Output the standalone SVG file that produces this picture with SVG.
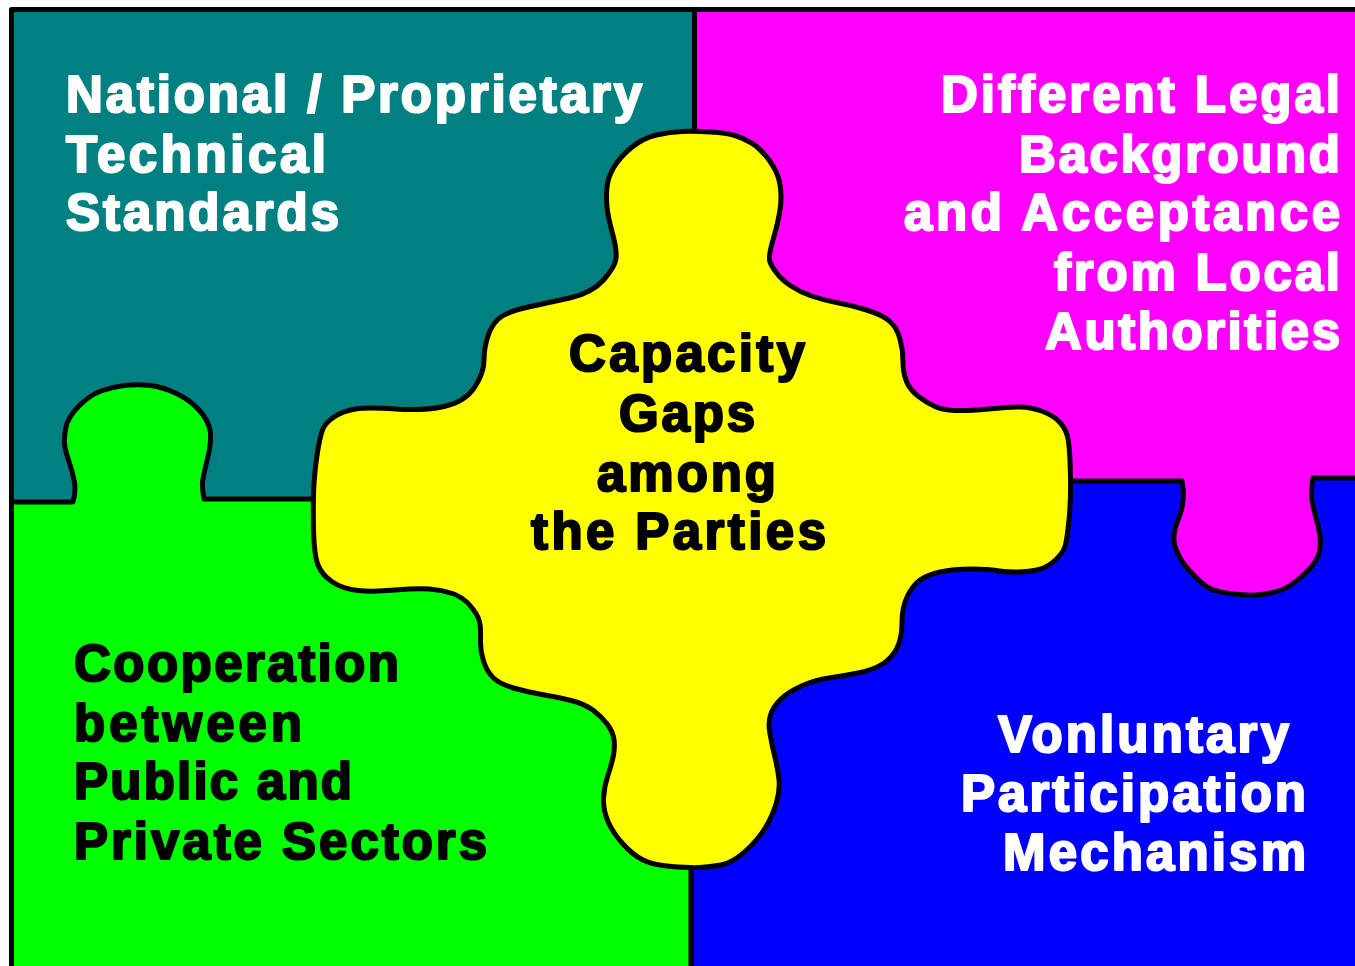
<svg xmlns="http://www.w3.org/2000/svg" width="1355" height="966" viewBox="0 0 1355 966">
<style>
.p{stroke:#000;stroke-width:5;stroke-linejoin:round}
text{font-family:"Liberation Sans",Arial,sans-serif;font-weight:bold;font-size:51px;stroke-width:2.2px;stroke-linejoin:round}
.w{fill:#fff;stroke:#fff}.k{fill:#000;stroke:#000}
</style>
<rect width="1355" height="966" fill="#fff"/>
<g id="teal"><path class="p" fill="#008080" d="M11.500 9.500H694.500V520H11.500Z"/>
<text class="w" x="66" y="112" textLength="576">National / Proprietary</text><text class="w" x="66" y="172" textLength="260">Technical</text><text class="w" x="66" y="230" textLength="273">Standards</text></g>
<g id="magenta"><path class="p" fill="#ff00ff" d="M694.500 9.500H1360V620H694.500Z"/>
<text class="w" x="941" y="112" textLength="399">Different Legal</text><text class="w" x="1019" y="172" textLength="321">Background</text><text class="w" x="904" y="230" textLength="436">and Acceptance</text><text class="w" x="1054" y="290" textLength="286">from Local</text><text class="w" x="1045" y="349" textLength="295">Authorities</text></g>
<g id="blue"><path class="p" fill="#0000ff" d="M691 970V481H1182Q1184 492 1183 501Q1182 510 1178.500 518.500Q1175 527 1174 535Q1173 543 1177.500 553Q1182 563 1192.500 574Q1203 585 1210 588.500Q1217 592 1233.500 594Q1250 596 1261.500 594.500Q1273 593 1281.500 590Q1290 587 1303.500 575Q1317 563 1319.500 551.500Q1322 540 1317 521.500Q1312 503 1311.500 496.500Q1311 490 1313 478H1360V970Z"/>
<text class="w" x="998" y="752" textLength="291">Vonluntary</text><text class="w" x="961" y="811" textLength="345">Participation</text><text class="w" x="1003" y="870" textLength="303">Mechanism</text></g>
<g id="green"><path class="p" fill="#00ff00" d="M11.500 970V502H73Q76 492 74.500 482.500Q73 473 69 461.500Q65 450 64.500 443.500Q64 437 66 427Q68 417 79 406Q90 395 101 391Q112 387 124.500 385.500Q137 384 150 385.500Q163 387 176.500 393.500Q190 400 199 410Q208 420 210 430Q212 440 207.500 458.500Q203 477 202.500 482Q202 487 204 499H691V970Z"/>
<text class="k" x="74" y="681" textLength="325">Cooperation</text><text class="k" x="74" y="741" textLength="228">between</text><text class="k" x="74" y="799" textLength="278">Public and</text><text class="k" x="74" y="859" textLength="413">Private Sectors</text></g>
<g id="center"><path class="p" fill="#ffff00" d="M682 131.500Q694 131 710.500 132Q727 133 735 135.500Q743 138 751.500 143Q760 148 769 160Q778 172 780 184.500Q782 197 780 210Q778 223 773 240Q768 257 770 262Q772 267 777 273.500Q782 280 791 286Q800 292 811.500 296Q823 300 836.500 302.500Q850 305 866.500 310Q883 315 890 321.500Q897 328 900 339Q903 350 903 361.500Q903 373 906.500 381.500Q910 390 918.500 396.500Q927 403 935 406.500Q943 410 955 410.500Q967 411 988.500 409Q1010 407 1020 407Q1030 407 1041.500 411Q1053 415 1060 422.500Q1067 430 1068.500 441.500Q1070 453 1070.500 476.500Q1071 500 1069 520Q1067 540 1065 546.500Q1063 553 1055.500 560Q1048 567 1039 569.500Q1030 572 1016 572Q1002 572 996 570.500Q990 569 971.500 569Q953 569 940 572Q927 575 920 580Q913 585 907.500 596Q902 607 902 622.500Q902 638 897 648Q892 658 882.500 664Q873 670 858 673Q843 676 829 678Q815 680 801.500 686Q788 692 780.500 699.500Q773 707 770.500 715Q768 723 770 734Q772 745 775 757.500Q778 770 779 780Q780 790 776.500 802.500Q773 815 765.500 827.500Q758 840 745 851.500Q732 863 721 865Q710 867 700 867.500Q690 868 671.500 866.500Q653 865 643 860Q633 855 623 844Q613 833 608 821.500Q603 810 603.500 798.500Q604 787 608 775Q612 763 613.500 755Q615 747 614 739.500Q613 732 607.500 724.500Q602 717 593.500 710.500Q585 704 571 700.500Q557 697 542 694.500Q527 692 513.500 688Q500 684 493.500 678Q487 672 483.500 661Q480 650 480.500 639Q481 628 479.500 621.500Q478 615 470.500 606Q463 597 452.500 593.500Q442 590 429.500 589Q417 588 395 590Q373 592 358 590.500Q343 589 332.500 582Q322 575 318 565Q314 555 313.500 527.500Q313 500 314 483.500Q315 467 317.500 452Q320 437 322.500 430Q325 423 334 417Q343 411 355.500 409Q368 407 395.500 409Q423 411 444 406.500Q465 402 474.500 387.500Q484 373 484 360Q484 347 488.500 334.500Q493 322 501.500 316.500Q510 311 528.500 307Q547 303 569.500 298Q592 293 603.500 280Q615 267 616 258.500Q617 250 612.500 233.500Q608 217 607 207Q606 197 607 187Q608 177 614 167Q620 157 631.500 147.500Q643 138 656.500 135Q670 132 682 131.500Z"/>
<text class="k" x="569" y="371" textLength="236">Capacity</text><text class="k" x="619" y="431" textLength="136">Gaps</text><text class="k" x="597" y="491" textLength="179">among</text><text class="k" x="531" y="549" textLength="295">the Parties</text></g>
<g id="connectors"/>
</svg>
